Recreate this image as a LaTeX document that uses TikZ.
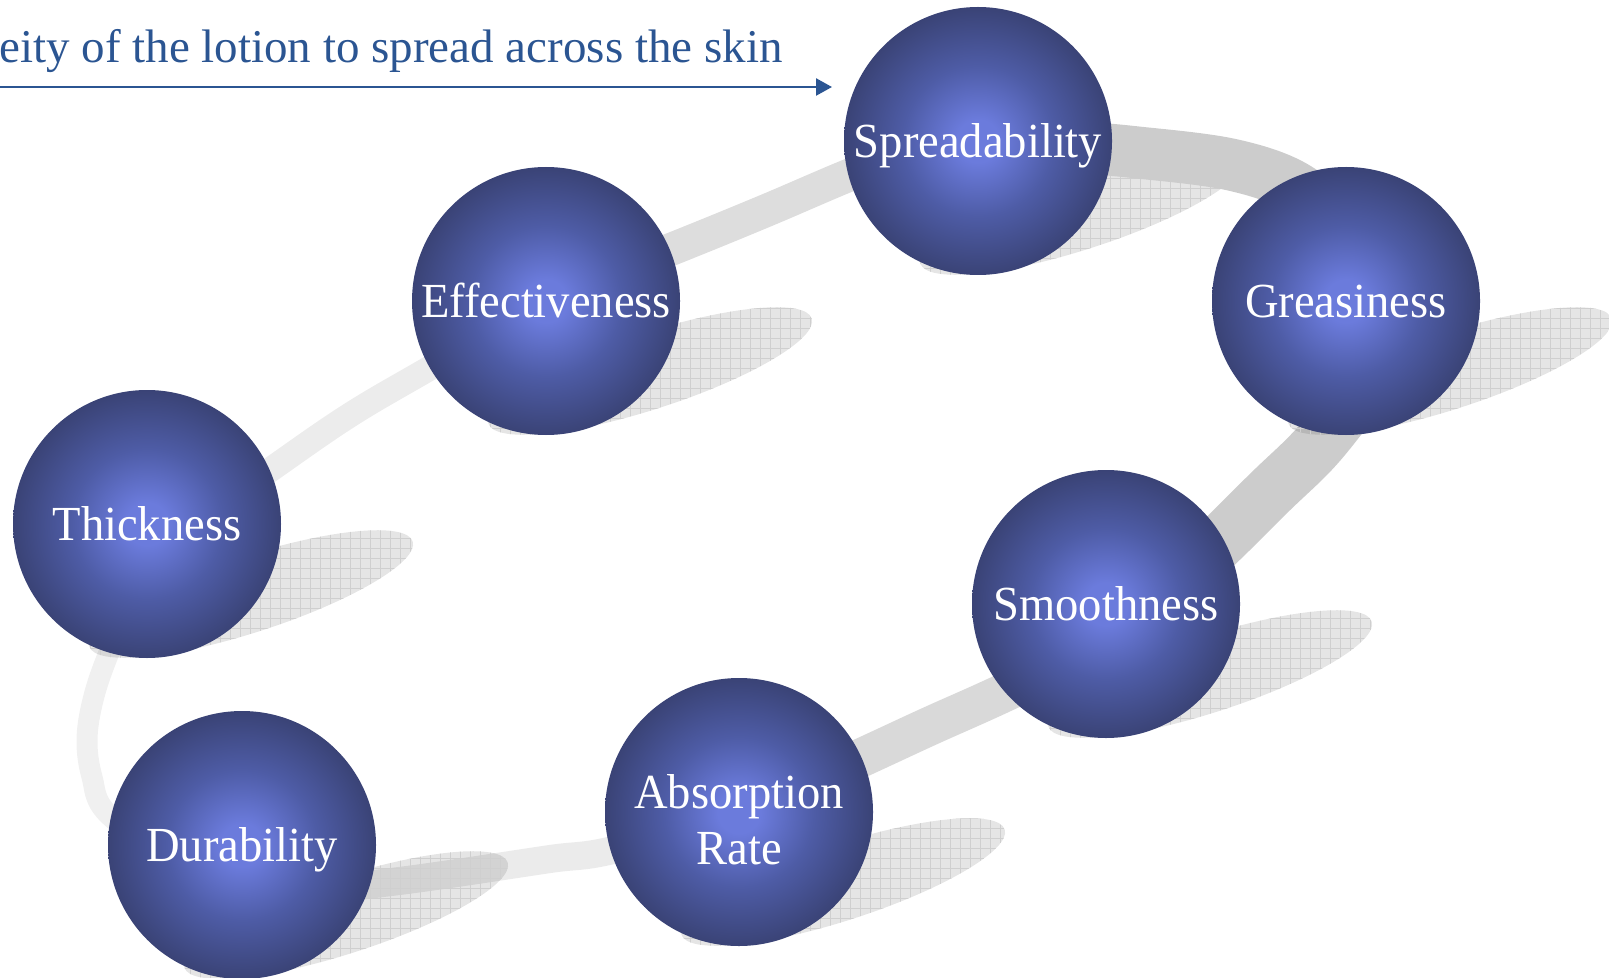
\documentclass[tikz,border=0pt]{standalone}
\usepackage{fontspec}
\setmainfont{Liberation Serif}
\newfontfamily\lblfont[FakeStretch=0.95]{Liberation Serif}
\usetikzlibrary{arrows.meta,patterns.meta,calc}
\definecolor{hdrblue}{HTML}{2B5592}
\definecolor{sphA}{RGB}{107,123,220}
\definecolor{sphB}{RGB}{78,92,166}
\definecolor{sphC}{RGB}{58,67,118}
\definecolor{sphD}{RGB}{51,59,102}
\definecolor{trkA}{HTML}{ECECEC}
\definecolor{trkB}{HTML}{DDDDDD}
\definecolor{trkC}{HTML}{CCCCCC}
\definecolor{trkD}{HTML}{D9D9D9}
\definecolor{trkE}{HTML}{EBEBEB}
\definecolor{trkF}{HTML}{F0F0F0}
\pgfdeclareradialshading{sphereshade}{\pgfpoint{0bp}{0bp}}{color(0bp)=(sphA); color(4bp)=(sphA); color(14bp)=(sphB); color(25bp)=(sphC); color(33bp)=(sphD); color(50bp)=(sphD)}
\tikzset{
  sphere/.style={circle, minimum size=134pt, inner sep=0pt, shading=sphereshade,
    text=white, font=\lblfont\fontsize{24.5}{28}\selectfont, text height=16.2pt, text depth=0pt},
  lbltwo/.style={text=white, font=\lblfont\fontsize{24.5}{28}\selectfont, align=center, inner sep=0pt},
  track/.style={line cap=butt, line join=round},
  shadowfill/.style={fill=black, fill opacity=0.1},
  shadowgrid/.style={pattern={Hatch[distance=5pt,angle=0,line width=0.35pt]}, pattern color=black!19},
  header/.style={text=hdrblue, font=\fontsize{23.5}{28}\selectfont, inner sep=0pt},
  hdrarrow/.style={draw=hdrblue, line width=1.2pt, -{Triangle[length=8pt,width=8.5pt]}}
}
\begin{document}
\begin{tikzpicture}[x=0.5pt,y=-0.5pt]
\useasboundingbox (0,0) rectangle (1609,978);
\clip (0,0) rectangle (1609,978);
% sphere centres
\coordinate (cT) at (147,524);
\coordinate (cE) at (546,301);
\coordinate (cS) at (978,141);
\coordinate (cG) at (1346,301);
\coordinate (cM) at (1106,604);
\coordinate (cA) at (739,812);
\coordinate (cD) at (242,845);
% track
\draw[track, draw=trkA, line width=12.5pt] plot[smooth, tension=0.6] coordinates {(160,548) (270,470) (350,415) (430,368) (546,301)};
\draw[track, draw=trkB, line width=16.5pt] plot[smooth, tension=0.6] coordinates {(546,299) (677,247) (765,211) (852,174) (905,155)};
\draw[track, draw=trkC, line width=27pt] plot[smooth, tension=0.6] coordinates {(1365,385) (1318,445) (1270,492) (1200,560) (1120,625)};
\draw[track, draw=trkD, line width=19.5pt] plot[smooth, tension=0.6] coordinates {(1090,652) (997,696) (930,726) (863,757) (739,814)};
\draw[track, draw=trkE, line width=14pt] plot[smooth, tension=0.6] coordinates {(739,814) (613,850) (550,859) (450,874) (383,883) (262,897)};
\draw[track, draw=trkF, line width=10.5pt] plot[smooth, tension=0.6] coordinates {(172,862) (107,813) (92,777) (87,740) (93,700) (108,655) (140,580)};
% shadows
\foreach \n in {cT,cE,cS,cG,cM,cA,cD}{
  \begin{scope}
    \coordinate (sh) at ($(\n)+(104,70)$);
    \clip[shift={(sh)}, rotate=18] (0,0) ellipse [x radius=85pt, y radius=19pt];
    \path[shadowfill] ($(\n)+(-120,-60)$) rectangle ($(\n)+(340,230)$);
    \path[shadowgrid] ($(\n)+(-120,-60)$) rectangle ($(\n)+(340,230)$);
  \end{scope}
}
% top arc of the track lies over the Spreadability shadow
\draw[track, draw=trkC, line width=26pt] plot[smooth, tension=0.6] coordinates {(978,141) (1060,146) (1133,152) (1233,165) (1300,190) (1335,232) (1346,280)};
% spheres
\node[sphere] (T) at (cT) {Thickness};
\node[sphere] (E) at (cE) {Effectiveness};
\node[sphere] (S) at (cS) {Spreadability};
\node[sphere] (G) at (cG) {Greasiness};
\node[sphere] (M) at (cM) {Smoothness};
\node[sphere, label={[lbltwo, yshift=-4pt]center:Absorption\\Rate}] (A) at (cA) {};
\node[sphere] (D) at (cD) {Durability};
% header
\node[header, anchor=base east] (hdr) at (783,63) {eity of the lotion to spread across the skin};
\coordinate (a0) at (0,87);
\coordinate (a1) at (832,87);
\draw[hdrarrow] (a0) -- (a1);
\end{tikzpicture}
\end{document}
